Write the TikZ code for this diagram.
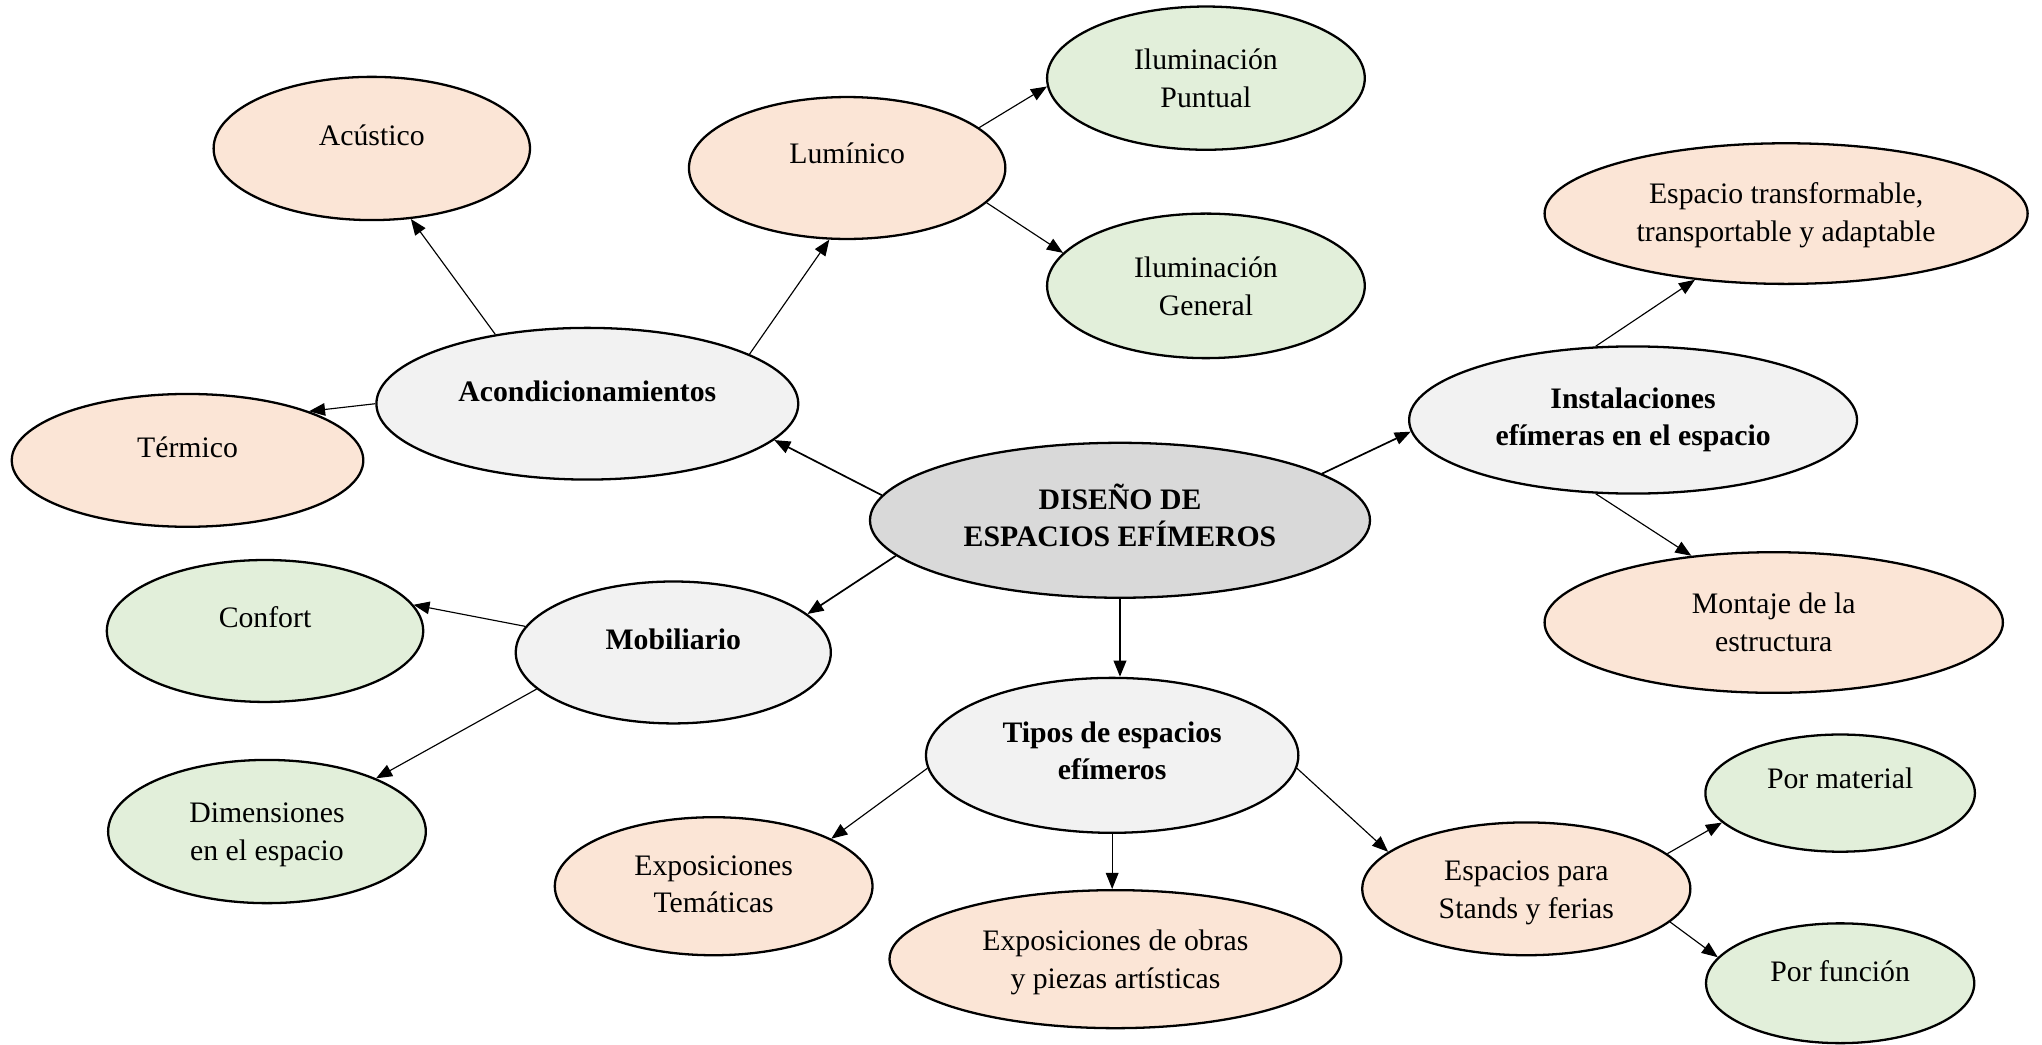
\documentclass[tikz,border=0pt]{standalone}
\usepackage{fontspec}
\setmainfont{Liberation Serif}
\usetikzlibrary{arrows.meta,shapes.geometric}

\definecolor{peach}{HTML}{FBE5D6}
\definecolor{leaf}{HTML}{E2EFDA}
\definecolor{pale}{HTML}{F2F2F2}
\definecolor{core}{HTML}{D9D9D9}

\begin{document}
\begin{tikzpicture}[x=0.02cm,y=-0.02cm,
		bubble/.style={ellipse, draw, line width=1pt, inner sep=0pt, align=center, font=\fontsize{13}{16.5}\selectfont},
		bold/.style={font=\fontsize{13}{16.5}\selectfont\bfseries},
		lift/.style={text height=9pt, text depth=#1},
		twolines/.style={text height=#1, text depth=0pt},
		link/.style={-{Triangle[length=7pt,width=5.5pt]}, line width=0.5pt},
		trunk/.style={link, line width=0.75pt}]
	\useasboundingbox (0,0) rectangle (1568,802);

	% centre and main themes
	\node (main) [bubble, bold, fill=core, minimum width=7.68cm, minimum height=2.38cm, twolines=23.2pt] at (860,399.5) {DISEÑO DE\\ESPACIOS EFÍMEROS};
	\node (acond) [bubble, bold, fill=pale, minimum width=6.48cm, minimum height=2.33cm, lift=10.9pt] at (451,310) {Acondicionamientos};
	\node (inst) [bubble, bold, fill=pale, minimum width=6.88cm, minimum height=2.26cm, twolines=22.7pt] at (1254,322.5) {Instalaciones\\efímeras en el espacio};
	\node (mob) [bubble, bold, fill=pale, minimum width=4.84cm, minimum height=2.18cm, lift=11.9pt] at (517,501) {Mobiliario};
	\node (tipos) [bubble, bold, fill=pale, minimum width=5.72cm, minimum height=2.38cm, twolines=21.5pt] at (854,580) {Tipos de espacios\\efímeros};

	% acondicionamientos
	\node (acustico) [bubble, fill=peach, minimum width=4.86cm, minimum height=2.20cm, lift=11.7pt] at (285.5,114) {Acústico};
	\node (luminico) [bubble, fill=peach, minimum width=4.86cm, minimum height=2.18cm, lift=12.9pt] at (650.5,129) {Lumínico};
	\node (termico) [bubble, fill=peach, minimum width=5.40cm, minimum height=2.04cm, lift=11.9pt] at (144,353.5) {Térmico};
	\node (puntual) [bubble, fill=leaf, minimum width=4.88cm, minimum height=2.20cm, twolines=25.5pt] at (926,60) {Iluminación\\Puntual};
	\node (general) [bubble, fill=leaf, minimum width=4.88cm, minimum height=2.22cm, twolines=25.5pt] at (926,219.5) {Iluminación\\General};

	% instalaciones
	\node (transf) [bubble, fill=peach, minimum width=7.42cm, minimum height=2.16cm, twolines=24.4pt] at (1371.5,164) {Espacio transformable,\\transportable y adaptable};
	\node (montaje) [bubble, fill=peach, minimum width=7.04cm, minimum height=2.16cm, twolines=25.5pt] at (1362,478) {Montaje de la\\estructura};

	% mobiliario
	\node (confort) [bubble, fill=leaf, minimum width=4.86cm, minimum height=2.18cm, lift=11.9pt] at (203.5,484.5) {Confort};
	\node (dimen) [bubble, fill=leaf, minimum width=4.88cm, minimum height=2.20cm, twolines=24.9pt] at (205,638.5) {Dimensiones\\en el espacio};

	% tipos
	\node (tematicas) [bubble, fill=peach, minimum width=4.88cm, minimum height=2.12cm, twolines=23.2pt] at (548,680.5) {Exposiciones\\Temáticas};
	\node (obras) [bubble, fill=peach, minimum width=6.94cm, minimum height=2.12cm, twolines=25.5pt] at (856.5,736.5) {Exposiciones de obras\\y piezas artísticas};
	\node (stands) [bubble, fill=peach, minimum width=5.04cm, minimum height=2.04cm, twolines=25.5pt] at (1172,682.5) {Espacios para\\Stands y ferias};
	\node (material) [bubble, fill=leaf, minimum width=4.14cm, minimum height=1.80cm, lift=13.1pt] at (1413,609) {Por material};
	\node (funcion) [bubble, fill=leaf, minimum width=4.12cm, minimum height=1.84cm, lift=10.2pt] at (1413,755) {Por función};

	\draw [trunk] (main.174) -- (acond.-11);
	\draw [trunk] (main.13) -- (inst.183);
	\draw [trunk] (main.-171.5) -- (mob.16);
	\draw [trunk] (main.south) -- (main.south |- tipos.north);

	\draw [link] (acond.143.6) -- (acustico.299);
	\draw [link] (acond.17.3) -- (luminico.256);
	\draw [link] (acond.180) -- (termico.22.4);
	\draw [link] (luminico.17) -- (puntual.183.6);
	\draw [link] (luminico.-14.7) -- (general.167.8);

	\draw [link] (inst.117) -- (transf.216);
	\draw [link] (inst.-117) -- (montaje.141);

	\draw [link] (mob.170) -- (confort.10);
	\draw [link] (mob.195) -- (dimen.26);

	\draw [link] (tipos.184.5) -- (tematicas.22);
	\draw [link] (tipos.south) -- (tipos.south |- obras.north);
	\draw [link] (tipos.-4) -- (stands.165);
	\draw [link] (stands.14.6) -- (material.194.3);
	\draw [link] (stands.-13.3) -- (funcion.168.4);
\end{tikzpicture}
\end{document}
